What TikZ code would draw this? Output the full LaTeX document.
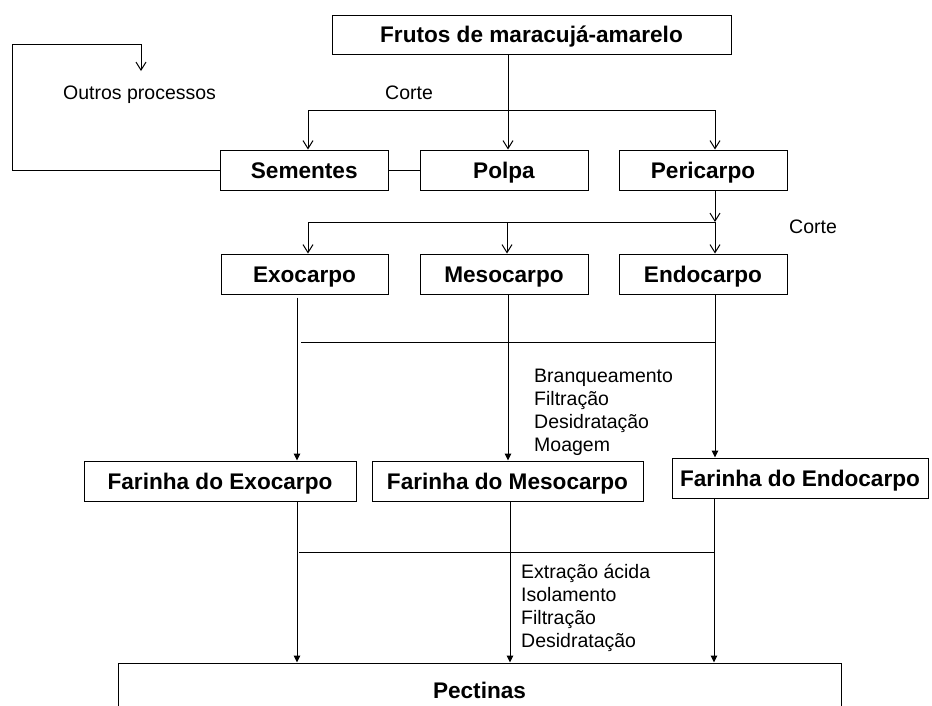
\documentclass[tikz,border=0pt]{standalone}
\usepackage{fontspec}
\setmainfont{Liberation Sans}
\usetikzlibrary{arrows.meta}
\begin{document}
\begin{tikzpicture}[x=1pt,y=-1pt,
  box/.style={draw=black, line width=1pt, inner sep=0pt, fill=white,
    font=\bfseries\fontsize{22.6}{26}\selectfont, text height=16.2pt, text depth=0pt},
  lbl/.style={inner sep=0pt, font=\fontsize{19.5}{23}\selectfont},
  conn/.style={line width=1pt},
  barb/.style={conn, -{Straight Barb[length=8pt,width=10pt,line width=1pt]}},
  barbboth/.style={conn, {Straight Barb[length=8pt,width=10pt,line width=1pt]}-{Straight Barb[length=8pt,width=10pt,line width=1pt]}},
  tri/.style={conn, -{Triangle[length=7pt,width=6.5pt]}}
]
\useasboundingbox (0,0) rectangle (932,705);
\clip (0,0) rectangle (932,705);

% boxes
\node[box, minimum width=399pt, minimum height=39pt] (frutos) at (531.5,34.5) {Frutos de maracujá-amarelo};
\node[box, minimum width=167.5pt, minimum height=40pt] (sem) at (304.25,170) {Sementes};
\node[box, minimum width=168pt, minimum height=40pt] (polpa) at (504,170) {Polpa};
\node[box, minimum width=168pt, minimum height=40pt] (peri) at (703,170) {Pericarpo};
\node[box, minimum width=167pt, minimum height=40pt] (exo) at (304.5,274) {Exocarpo};
\node[box, minimum width=168pt, minimum height=40pt] (meso) at (504,274) {Mesocarpo};
\node[box, minimum width=168pt, minimum height=40pt] (endo) at (703,274) {Endocarpo};
\node[box, minimum width=272pt, minimum height=40pt] (fexo) at (220,481) {Farinha do Exocarpo};
\node[box, minimum width=271pt, minimum height=40pt] (fmeso) at (507.5,481) {Farinha do Mesocarpo};
\node[box, minimum width=256pt, minimum height=40pt] (fendo) at (800,478) {Farinha do Endocarpo};
\node[box, minimum width=723pt, minimum height=54pt] (pect) at (479.5,690) {Pectinas};

% labels
\node[lbl, anchor=base west] (outros) at (63,99) {Outros processos};
\node[lbl, anchor=base west] (corte1) at (385,99) {Corte};
\node[lbl, anchor=base west] (corte2) at (789,233) {Corte};
\node[lbl, anchor=north west, align=left] (proc1) at (534,369) {Branqueamento\\Filtração\\Desidratação\\Moagem};
\node[lbl, anchor=north west, align=left] (proc2) at (521,564) {Extração ácida\\Isolamento\\Filtração\\Desidratação};

% x positions and junctions
\coordinate (xF) at (508,0);
\coordinate (xS) at (308,0);
\coordinate (xP) at (715,0);
\coordinate (xM) at (507,0);
\coordinate (xA) at (297,0);
\coordinate (xB) at (508,0);
\coordinate (xC) at (510,0);
\coordinate (xD) at (714,0);
\coordinate (h1L) at (308,110);
\coordinate (h1R) at (715,110);
\coordinate (h2L) at (308,222);
\coordinate (h2M) at (507,222);
\coordinate (h2R) at (715,222);
\coordinate (h3L) at (301,342);
\coordinate (h3R) at (715,342);
\coordinate (h4L) at (299,552);
\coordinate (h4R) at (714,552);
\coordinate (lp1) at (12,44);
\coordinate (lp2) at (141,44);
\coordinate (lpend) at (141,71);

% top section
\draw[barb] (frutos.south -| xF) -- (polpa.north -| xF);
\draw[barbboth] (sem.north -| xS) -- (h1L) -- (h1R) -- (peri.north -| xP);
\draw[conn] (sem.east) -- (polpa.west);
\draw[barb] (sem.west) -- (sem.west -| lp1) -- (lp1) -- (lp2) -- (lpend);

% pericarp split
\draw[barb] (peri.south -| xP) -- (h2R);
\draw[barb] (h2R) -- (endo.north -| xP);
\draw[barb] (h2R) -- (h2L) -- (exo.north -| xS);
\draw[barb] (h2M) -- (meso.north -| xM);

% flours
\draw[tri] ([yshift=-3pt]exo.south -| xA) -- (fexo.north -| xA);
\draw[conn] (h3L) -- (h3R);
\draw[tri] (meso.south -| xB) -- (fmeso.north -| xB);
\draw[tri] (endo.south -| xP) -- (fendo.north -| xP);

% pectins
\draw[tri] (fexo.south -| xA) -- (pect.north -| xA);
\draw[conn] (h4L) -- (h4R);
\draw[tri] (fmeso.south -| xC) -- (pect.north -| xC);
\draw[tri] (fendo.south -| xD) -- (pect.north -| xD);
\end{tikzpicture}
\end{document}
